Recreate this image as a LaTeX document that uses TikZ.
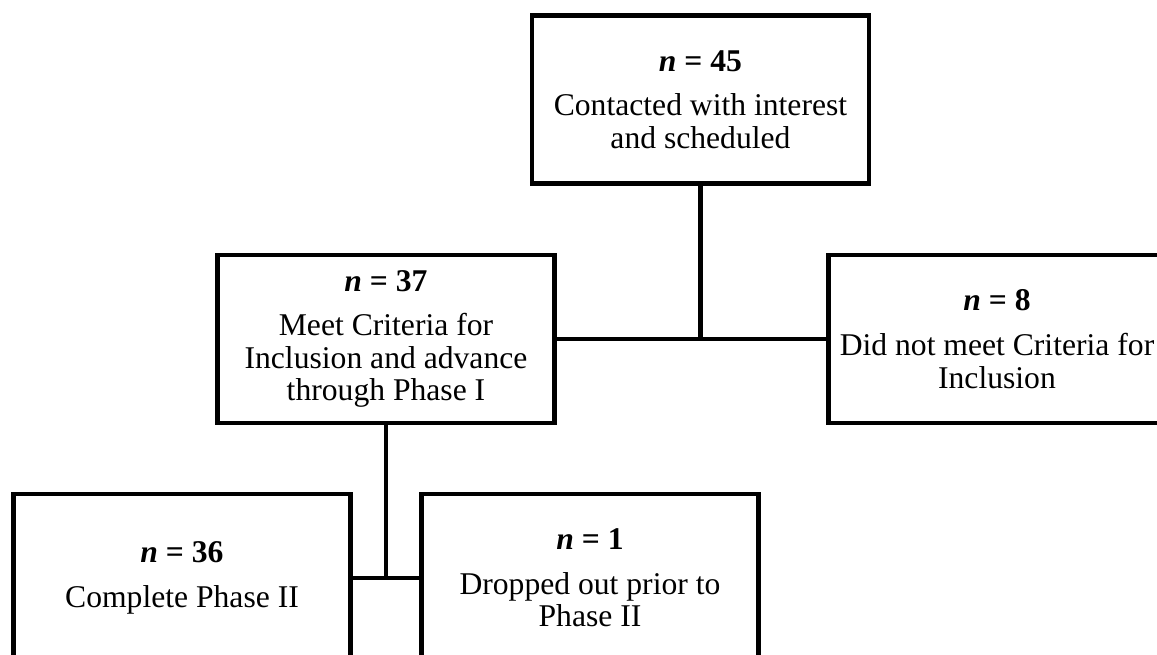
\documentclass[tikz,border=0pt]{standalone}
\usepackage{fontspec}
\setmainfont{Liberation Serif}
\usetikzlibrary{positioning}
\tikzset{
	stagebox/.style={draw=black, line width=2.3pt, minimum width=6.74cm, minimum height=3.36cm,
		align=center, inner sep=2pt, font=\fontsize{18}{18.5}\selectfont},
}
\tikzstyle{link} = [draw=black, line width=2.3pt]
\newcommand{\ncount}[1]{\textbf{\textit{n} = #1}}

\begin{document}
\begin{tikzpicture}
			\useasboundingbox (0,0) rectangle (23.14,13.10);
			% Stages
			\node [stagebox] (contacted) at (14.01, 11.11) {\ncount{45}\\[7pt]Contacted with interest\\and scheduled};
			\node [stagebox] (included) at (7.72, 6.32) {\ncount{37}\\[7pt]Meet Criteria for\\Inclusion and advance\\through Phase I};
			\node [stagebox] (excluded) at (19.94, 6.32) {\ncount{8}\\[7pt]Did not meet Criteria for\\Inclusion};
			\node [stagebox] (completed) at (3.64, 1.54) {\ncount{36}\\[7pt]Complete Phase II};
			\node [stagebox] (dropped) at (11.80, 1.54) {\ncount{1}\\[7pt]Dropped out prior to\\Phase II};
			% Links
			\draw [link] (contacted.south) -- (contacted.south |- included.east);
			\draw [link] (included.east) -- (excluded.west);
			\draw [link] (included.south) -- (included.south |- completed.east);
			\draw [link] (completed.east) -- (dropped.west);
\end{tikzpicture}
\end{document}
